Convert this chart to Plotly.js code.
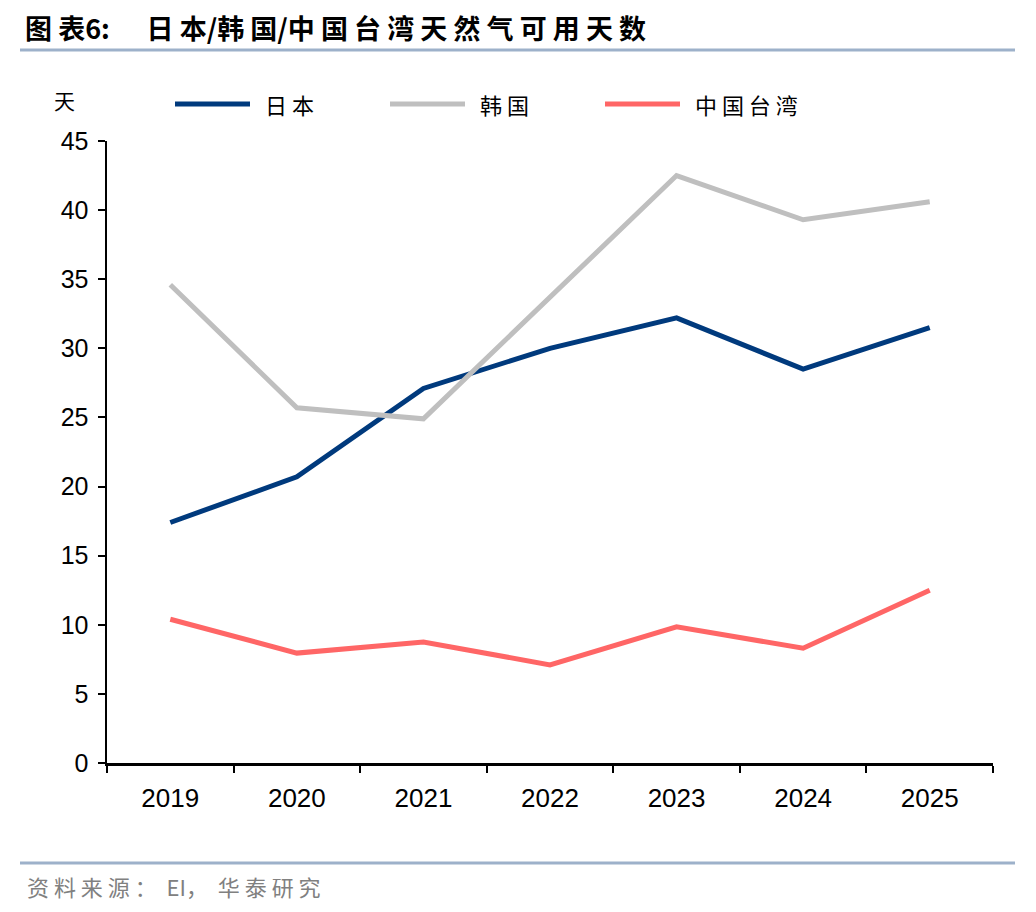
<!DOCTYPE html>
<html>
<head>
<meta charset="utf-8">
<script src="https://cdn.plot.ly/plotly-3.0.1.min.js"></script>
<style>
html,body{margin:0;padding:0;background:#fff;}
#chart{width:1036px;height:912px;}
</style>
</head>
<body>
<div id="chart"></div>
<script>
const years = ['2019','2020','2021','2022','2023','2024','2025'];
const japan = [17.4, 20.7, 27.1, 30.0, 32.2, 28.5, 31.5];
const korea = [34.6, 25.7, 24.9, 33.7, 42.5, 39.3, 40.6];
const taiwan = [10.4, 7.95, 8.75, 7.1, 9.85, 8.3, 12.5];
const seriesNames = ['日 本', '韩 国', '中 国 台 湾'];
const seriesColors = ['#003A7D', '#BFBFBF', '#FF6666'];
const yTicks = [0,5,10,15,20,25,30,35,40,45];

const W = 1036, H = 912;
const L = 107, R = 993, T = 141, B = 763;
const px = x => (x - L) / (R - L);
const py = y => (B - y) / (B - T);

const cjk = '"Noto Sans CJK SC", "Noto Sans", sans-serif';
const lat = '"Liberation Sans", Arial, sans-serif';

const data = [japan, korea, taiwan].map((vals, i) => ({
  type: 'scatter', mode: 'lines', x: years, y: vals,
  name: seriesNames[i], line: {color: seriesColors[i], width: 5},
  showlegend: false, hoverinfo: 'x+y'
}));

const shapes = [
  {type:'line', xref:'paper', yref:'paper', x0:px(20), x1:px(1015), y0:py(50), y1:py(50), line:{color:'#9DB1CA', width:3}},
  {type:'line', xref:'paper', yref:'paper', x0:px(20), x1:px(1015), y0:py(863), y1:py(863), line:{color:'#9DB1CA', width:3}}
];
const annotations = [
  {xref:'paper', yref:'paper', x:px(52), y:py(100), text:'天', showarrow:false, xanchor:'left', yanchor:'middle', font:{family:cjk, size:21, color:'#000'}},
  {xref:'paper', yref:'paper', x:px(25), y:py(886), text:'资 料 来 源 ：  EI，  华 泰 研 究', showarrow:false, xanchor:'left', yanchor:'middle', font:{family:cjk, size:22, color:'#808080'}}
];
const legendX = [175, 390, 605];
seriesNames.forEach((n, i) => {
  shapes.push({type:'line', xref:'paper', yref:'paper', x0:px(legendX[i]), x1:px(legendX[i]+75), y0:py(104), y1:py(104), line:{color:seriesColors[i], width:5}});
  annotations.push({xref:'paper', yref:'paper', x:px(legendX[i]+88), y:py(104), text:n, showarrow:false, xanchor:'left', yanchor:'middle', font:{family:cjk, size:22, color:'#000'}});
});

const layout = {
  width: W, height: H,
  margin: {l: L, r: W - R, t: T, b: H - B, pad: 0},
  paper_bgcolor: '#fff', plot_bgcolor: '#fff',
  title: {
    text: '<b>图 表6:      日 本/韩 国/中 国 台 湾 天 然 气 可 用 天 数</b>',
    xref: 'container', yref: 'container', x: 25 / W, xanchor: 'left', y: 1 - 30 / H, yanchor: 'middle',
    font: {family: cjk, size: 27, color: '#000'}
  },
  xaxis: {
    type: 'category', range: [-0.5, 6.5], tickson: 'boundaries',
    showline: true, linecolor: '#000', linewidth: 2.5,
    ticks: 'outside', ticklen: 7, tickwidth: 2, tickcolor: '#000',
    showgrid: false, zeroline: false, ticklabelstandoff: 10,
    tickfont: {family: lat, size: 26, color: '#000'}, fixedrange: true
  },
  yaxis: {
    range: [0, 45], tickvals: yTicks, ticktext: yTicks.map(String),
    showline: true, linecolor: '#000', linewidth: 2.5,
    ticks: 'outside', ticklen: 7, tickwidth: 2, tickcolor: '#000',
    showgrid: false, zeroline: false, ticklabelstandoff: 4,
    tickfont: {family: lat, size: 25, color: '#000'}, fixedrange: true
  },
  shapes: shapes,
  annotations: annotations
};

Plotly.newPlot('chart', data, layout, {displayModeBar: false, staticPlot: true});
</script>
</body>
</html>
